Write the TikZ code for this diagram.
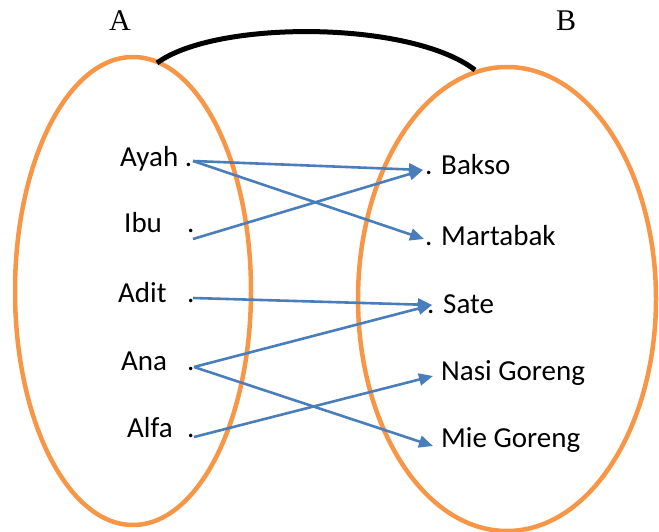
\documentclass[tikz,border=0pt]{standalone}
\usepackage{fontspec}
\setmainfont{Carlito}
\newfontfamily\setfont{Liberation Serif}
\usetikzlibrary{arrows.meta}
\definecolor{setorange}{HTML}{F79646}
\definecolor{mapblue}{HTML}{4A7EBB}
\begin{document}
\begin{tikzpicture}[x=1pt,y=-1pt,
  setline/.style={draw=setorange,line width=4.5pt},
  lbl/.style={anchor=base west,inner sep=0pt,font=\fontsize{29}{31}\selectfont},
  setname/.style={anchor=base west,inner sep=0pt,font=\setfont\fontsize{30}{32}\selectfont},
  maparrow/.style={draw=mapblue,line width=2.6pt,-{Triangle[length=14pt,width=12pt]}}]
\useasboundingbox (0,0) rectangle (659,532);

% the two sets
\draw[setline] (133,291) ellipse [x radius=118, y radius=234];
\draw[setline] (507,299) ellipse [x radius=149, y radius=232];

% set names
\node[setname] (nameA) at (109,31) {A};
\node[setname] (nameB) at (556,31) {B};

% relation arc joining the sets
\coordinate (arcL) at (157,63);
\coordinate (arcR) at (475,70);
\draw[line width=5pt,line cap=butt] (arcL) .. controls (215,20) and (410,20) .. (arcR);

% domain members
\node[lbl] (ayah) at (120,167) {Ayah .};
\node[lbl] (ibu)  at (124,233) {Ibu};
\node[lbl] (adit) at (118,302) {Adit};
\node[lbl] (ana)  at (121,370) {Ana};
\node[lbl] (alfa) at (127,437) {Alfa};
\node[lbl] (dIbu)  at (187,233) {.};
\node[lbl] (dAdit) at (187,302) {.};
\node[lbl] (dAna)  at (187,370) {.};
\node[lbl] (dAlfa) at (187,437) {.};

% codomain members
\node[lbl] (bakso)    at (425,175) {. Bakso};
\node[lbl] (martabak) at (425,245) {. Martabak};
\node[lbl] (sate)     at (427,313) {. Sate};
\node[lbl] (nasi)     at (441,380) {Nasi Goreng};
\node[lbl] (mie)      at (441,447) {Mie Goreng};

% arrow end points
\coordinate (pAyah) at (193,161);
\coordinate (pIbu)  at (193,239);
\coordinate (pAdit) at (193,298);
\coordinate (pAna)  at (194,367);
\coordinate (pAlfa) at (194,437);
\coordinate (qBakso)    at (423,170);
\coordinate (qMartabak) at (424,239);
\coordinate (qSate)     at (432,305);
\coordinate (qNasi)     at (433,376);
\coordinate (qMie)      at (433,446);

% the relation
\draw[maparrow] (pAyah) -- (qBakso);
\draw[maparrow] (pAyah) -- (qMartabak);
\draw[maparrow] (pIbu)  -- (qBakso);
\draw[maparrow] (pAdit) -- (qSate);
\draw[maparrow] (pAna)  -- (qSate);
\draw[maparrow] (pAna)  -- (qMie);
\draw[maparrow] (pAlfa) -- (qNasi);
\end{tikzpicture}
\end{document}
